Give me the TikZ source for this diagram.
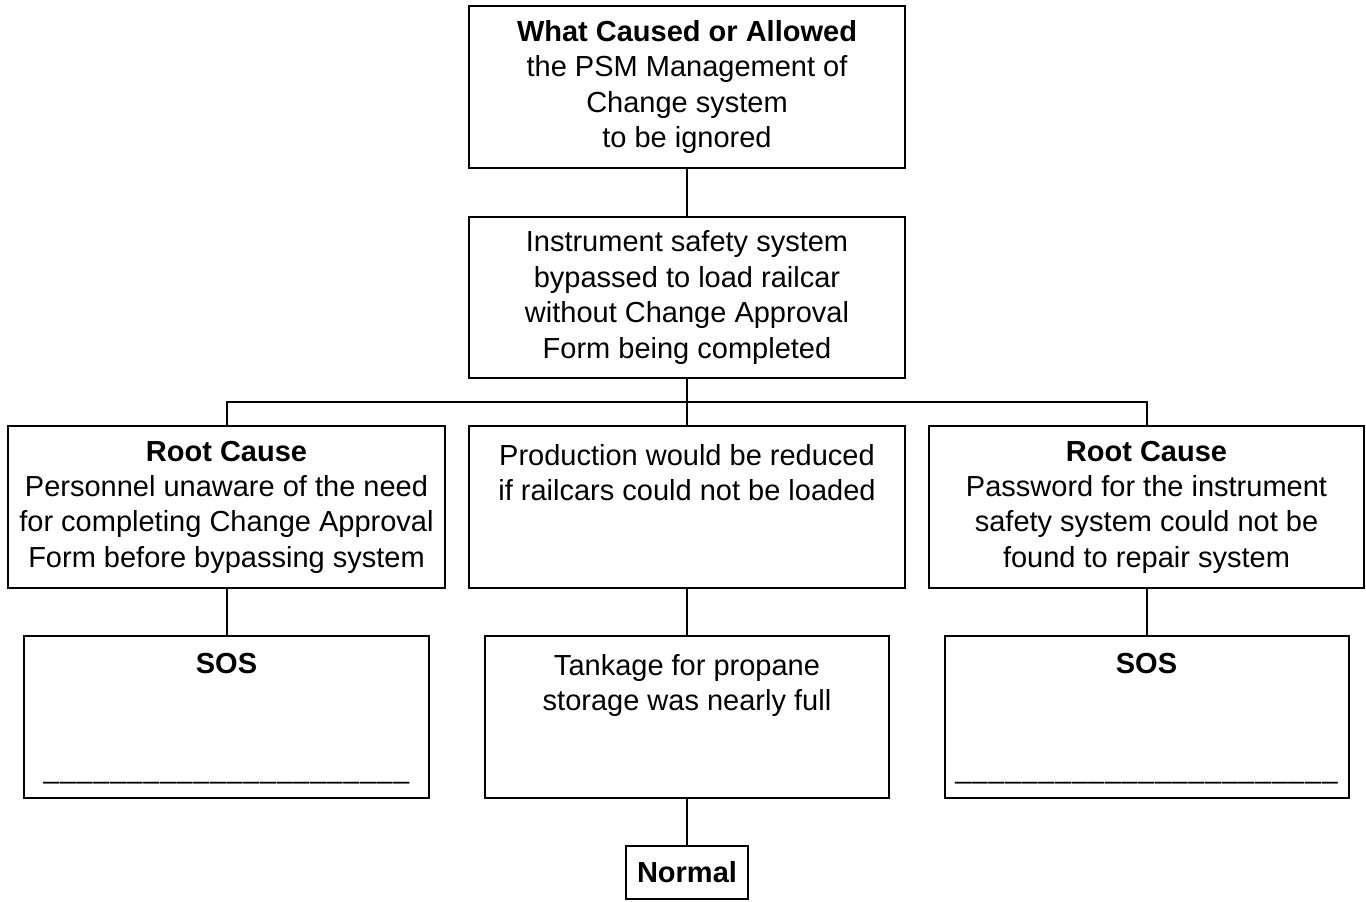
\documentclass[tikz,border=0pt]{standalone}
\usepackage{fontspec}
\setmainfont{Liberation Sans}
\usetikzlibrary{positioning}
\tikzset{box/.style={draw, line width=1pt, inner sep=0pt, minimum height=81pt,
  align=center, font=\fontsize{14.5}{17.7}\selectfont}}
\tikzset{txt/.style={inner sep=0pt, align=center, font=\fontsize{14.5}{17.7}\selectfont}}
\tikzset{blank/.style={inner sep=0pt, font=\fontsize{14}{17}\selectfont}}
\newcommand{\blankline}[1]{\foreach \i in {1,...,#1}{\_\kern0.55pt}\unkern}

\begin{document}
\begin{tikzpicture}[x=0.5pt, y=-0.5pt, line width=1pt]
    \useasboundingbox (0,0) rectangle (1366,901);
    \node[box, minimum width=218pt] (what) at (687,87)
        {\textbf{What Caused or Allowed}\\the PSM Management of\\Change system\\ to be ignored};
    \node[box, minimum width=218pt, minimum height=80.5pt] (bypass) at (687,297.5)
        {Instrument safety system\\bypassed to load railcar\\without Change Approval\\ Form being completed};
    \coordinate (bus) at (687,402);
    \node[box, minimum width=218.5pt] (rcA) at (226.5,507)
        {\textbf{Root Cause}\\Personnel unaware of the need\\for completing Change Approval\\Form before bypassing system};
    \node[box, minimum width=218pt] (prod) at (687,507) {};
    \node[txt, below=9pt of prod.north] (prodtxt)
        {Production would be reduced\\if railcars could not be loaded};
    \node[box, minimum width=217.5pt] (rcB) at (1146.5,507)
        {\textbf{Root Cause}\\Password for the instrument\\safety system could not be\\found to repair system};
    \node[box, minimum width=202.5pt] (sosA) at (226.5,717) {};
    \node[txt, below=8.8pt of sosA.north] (sosAtxt) {\textbf{SOS}};
    \node[blank, above=7pt of sosA.south] (lineA) {\blankline{22}};
    \node[box, minimum width=202pt] (tank) at (687,717) {};
    \node[txt, below=9pt of tank.north] (tanktxt)
        {Tankage for propane\\storage was nearly full};
    \node[box, minimum width=202pt] (sosB) at (1146.5,717) {};
    \node[txt, below=8.8pt of sosB.north] (sosBtxt) {\textbf{SOS}};
    \node[blank, above=7pt of sosB.south] (lineB) {\blankline{23}};
    \node[box, minimum width=61pt, minimum height=26.5pt] (normal) at (687,872.5)
        {\textbf{Normal}};
    \draw (what) -- (bypass);
    \draw (bypass) -- (bus);
    \draw (bus) -| (rcA);
    \draw (bus) -- (prod);
    \draw (bus) -| (rcB);
    \draw (rcA) -- (sosA);
    \draw (prod) -- (tank);
    \draw (rcB) -- (sosB);
    \draw (tank) -- (normal);
\end{tikzpicture}
\end{document}
